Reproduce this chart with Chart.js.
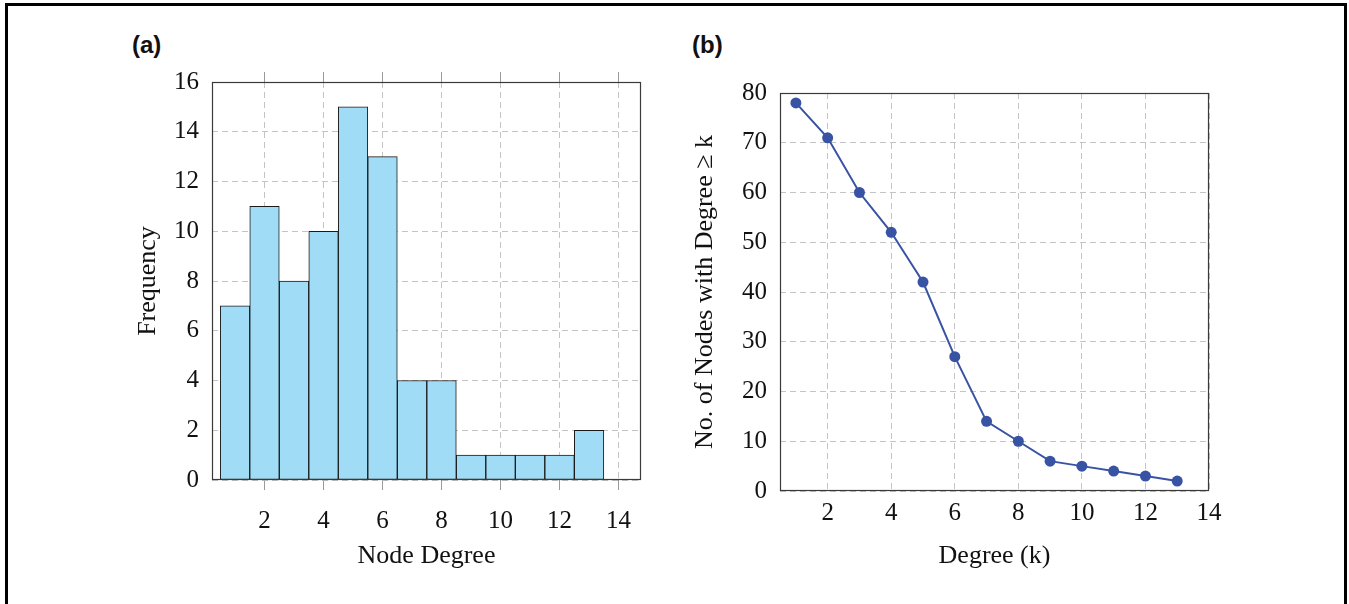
<!DOCTYPE html>
<html>
<head>
<meta charset="utf-8">
<script src="https://cdn.jsdelivr.net/npm/chart.js@4.4.1/dist/chart.umd.min.js"></script>
<style>
body{margin:0;width:1349px;height:604px;background:#fff;overflow:hidden;position:relative}
#Frame{position:absolute;left:5px;top:3px;width:1336px;height:640px;border:3px solid #000}
.Tag{position:absolute;font:bold 24px "Liberation Sans",Arial,sans-serif;color:#111}
canvas{position:absolute;top:0}
</style>
</head>
<body>
<div id="Frame"></div>
<div class="Tag" style="left:132px;top:31px">(a)</div>
<div class="Tag" style="left:692px;top:31px">(b)</div>
<canvas id="ChartA" width="680" height="604" style="left:0;width:680px;height:604px"></canvas>
<canvas id="ChartB" width="669" height="604" style="left:680px;width:669px;height:604px"></canvas>
<script>
// (a) histogram of node degree
const DegreeBins=[1,2,3,4,5,6,7,8,9,10,11,12,13]
const Frequency=[7,11,8,10,15,13,4,4,1,1,1,1,2]
const TicksXA=[2,4,6,8,10,12,14]
// (b) nodes with degree >= k
const DegreeK=[1,2,3,4,5,6,7,8,9,10,11,12,13]
const NodesAtLeast=[78,71,60,52,42,27,14,10,6,5,4,3,2]
const TicksXB=[2,4,6,8,10,12,14]

const SERIF='"Liberation Serif","Times New Roman",serif'
const GRID='#c4c4c4'
const DASH=[6,4]
const TICKFONT={family:SERIF,size:25}
const TITLEFONT={family:SERIF,size:26}

const framePlugin={id:'frame',afterDraw(c){const a=c.chartArea,x=c.ctx;x.save();x.strokeStyle='#3a3a3a';x.lineWidth=1.2;x.strokeRect(a.left+.5,a.top+.5,a.right-a.left-1,a.bottom-a.top-1);x.restore()}}

function SetTicks(arr){return s=>{s.ticks=arr.map(v=>({value:v}))}}
function Pts(xs,ys){return xs.map((v,i)=>({x:v,y:ys[i]}))}

Chart.defaults.color='#111'
Chart.defaults.animation=false

function LoadA(){
new Chart(document.getElementById('ChartA'),{
type:'bar',
data:{datasets:[{data:Pts(DegreeBins,Frequency),backgroundColor:'rgb(160,220,246)',borderColor:'#1a1a1a',borderWidth:1,borderSkipped:false,barPercentage:1,categoryPercentage:1,grouped:false}]},
options:{responsive:false,
layout:{padding:{left:133,top:72,right:39,bottom:32}},
plugins:{legend:{display:false},tooltip:{enabled:false}},
scales:{
x:{type:'linear',position:'bottom',min:0.22,max:14.76,offset:false,afterBuildTicks:SetTicks(TicksXA),afterFit(s){s.height=92},
 grid:{color:GRID,offset:false,drawTicks:true,tickLength:10,tickColor:'#9a9a9a'},border:{display:false,dash:DASH},
 ticks:{font:TICKFONT,padding:16,maxRotation:0},
 title:{display:true,text:'Node Degree',font:TITLEFONT,padding:0}},
x2:{type:'linear',position:'top',min:0.22,max:14.76,offset:false,afterBuildTicks:SetTicks(TicksXA),afterFit(s){s.height=10},
 grid:{drawOnChartArea:false,offset:false,drawTicks:true,tickLength:10,color:'#9a9a9a'},border:{display:false},ticks:{display:false}},
y:{min:0,max:16,afterFit(s){s.width=79},
 grid:{color:GRID,drawTicks:false},border:{display:false,dash:DASH},
 ticks:{stepSize:2,font:TICKFONT,padding:13},
 title:{display:true,text:'Frequency',font:TITLEFONT,padding:0}}
}},
plugins:[framePlugin]
})
}

function LoadB(){
new Chart(document.getElementById('ChartB'),{
type:'line',
data:{datasets:[{data:Pts(DegreeK,NodesAtLeast),borderColor:'#3953a4',backgroundColor:'#3953a4',borderWidth:2,pointRadius:5.5,pointBorderWidth:0,pointBackgroundColor:'#3953a4',tension:0}]},
options:{responsive:false,
layout:{padding:{left:10,top:93,right:140,bottom:32}},
plugins:{legend:{display:false},tooltip:{enabled:false}},
scales:{
x:{type:'linear',min:0.5,max:14,afterBuildTicks:SetTicks(TicksXB),afterFit(s){s.height=81},
 grid:{color:GRID,drawTicks:false},border:{display:false,dash:DASH},
 ticks:{font:TICKFONT,padding:7,maxRotation:0},
 title:{display:true,text:'Degree (k)',font:TITLEFONT,padding:0}},
y:{min:0,max:80,afterFit(s){s.width=90},
 grid:{color:GRID,drawTicks:false},border:{display:false,dash:DASH},
 ticks:{stepSize:10,font:TICKFONT,padding:13},
 title:{display:true,text:'No. of Nodes with Degree ≥ k',font:TITLEFONT,padding:0}}
}},
plugins:[framePlugin]
})
}

LoadA()
LoadB()
</script>
</body>
</html>
